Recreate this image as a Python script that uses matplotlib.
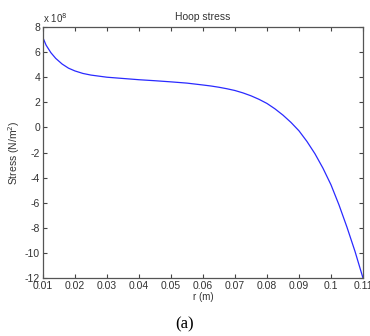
import matplotlib
matplotlib.use('Agg')
import matplotlib.pyplot as plt

# radius (m) and hoop stress (x 1e8 N/m^2)
r = [0.01, 0.011, 0.0125, 0.014, 0.016, 0.018, 0.02, 0.0225, 0.025, 0.03,
     0.035, 0.04, 0.045, 0.05, 0.055, 0.06, 0.0625, 0.065, 0.0675, 0.07,
     0.0725, 0.075, 0.0775, 0.08, 0.0825, 0.085, 0.0875, 0.09, 0.0925, 0.095,
     0.0975, 0.1, 0.1025, 0.105, 0.1075, 0.11]
stress = [7.15, 6.55, 5.95, 5.5, 5.05, 4.72, 4.5, 4.3, 4.17, 4.0,
          3.9, 3.8, 3.72, 3.63, 3.53, 3.38, 3.30, 3.20, 3.08, 2.94,
          2.75, 2.52, 2.24, 1.91, 1.48, 0.98, 0.40, -0.27, -1.12, -2.10,
          -3.25, -4.57, -6.17, -7.95, -9.87, -12.0]

xticks = [0.01, 0.02, 0.03, 0.04, 0.05, 0.06, 0.07, 0.08, 0.09, 0.1, 0.11]
xticklabels = ['0.01', '0.02', '0.03', '0.04', '0.05', '0.06', '0.07', '0.08', '0.09', '0.1', '0.11']
yticks = [8, 6, 4, 2, 0, -2, -4, -6, -8, -10, -12]

plt.rcParams['font.family'] = ['Liberation Sans', 'DejaVu Sans']
plt.rcParams['axes.unicode_minus'] = False

fig = plt.figure(figsize=(3.7, 3.36), dpi=100)
ax = fig.add_axes([0.116, 0.1726, 0.865, 0.747])

ax.plot(r, stress, color='#2a2aff', linewidth=0.9)

ax.set_xlim(0.01, 0.11)
ax.set_ylim(-12, 8)
ax.set_xticks(xticks)
ax.set_xticklabels(xticklabels)
ax.set_yticks(yticks)
ax.tick_params(direction='in', top=True, right=True, length=3, width=0.8,
               labelsize=7.5, colors='#444444', labelcolor='#333333', pad=2)
for s in ax.spines.values():
    s.set_color('#555555')
    s.set_linewidth(0.9)

ax.set_title('Hoop stress', fontsize=7.5, color='#333333', pad=5)
ax.set_xlabel('r (m)', fontsize=7, color='#333333', labelpad=1)
ax.set_ylabel('Stress (N/m$^2$)', fontsize=7.5, color='#333333', labelpad=2)
ax.text(0.0, 1.01, 'x 10$^{8}$', transform=ax.transAxes, fontsize=7,
        color='#333333', ha='left', va='bottom')

fig.text(0.5, 0.035, '(a)', fontsize=12, family='Liberation Serif', ha='center', va='center')

fig.savefig('out.png', dpi=100)
